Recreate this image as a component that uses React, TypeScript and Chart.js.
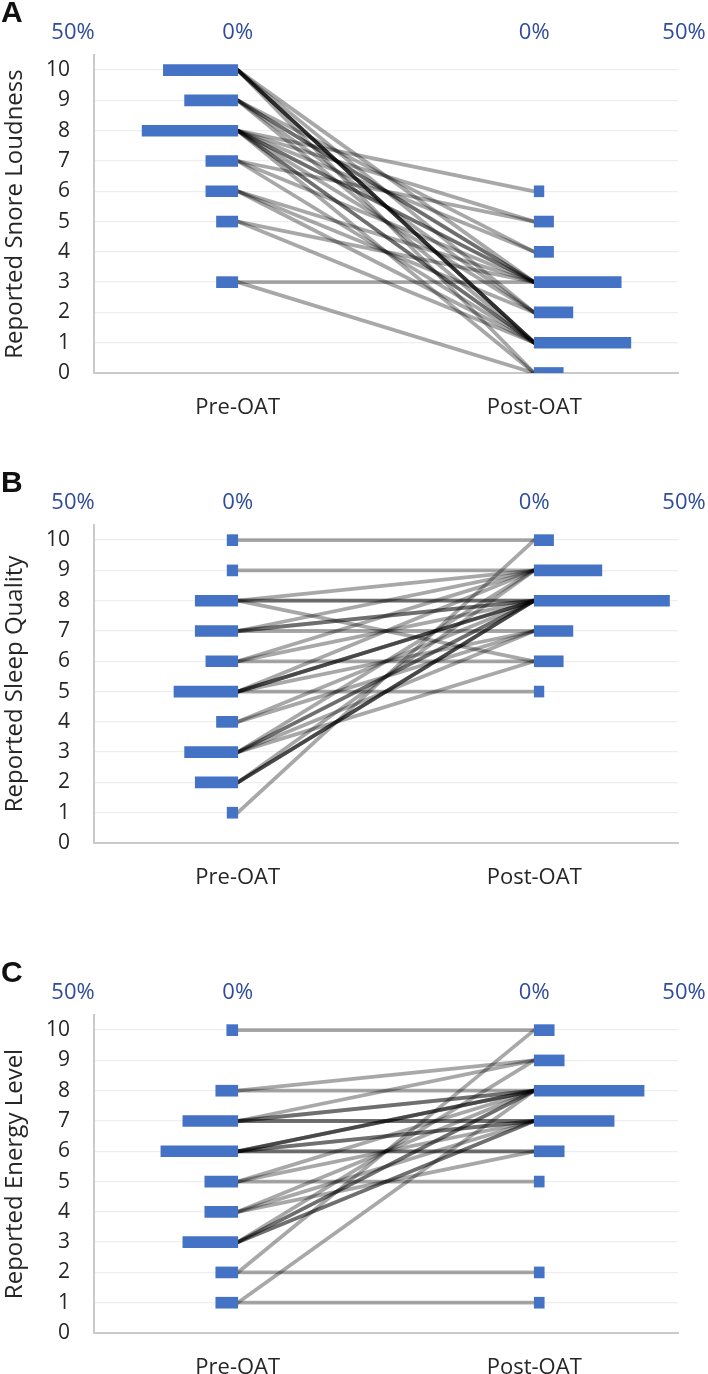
import React, { useEffect, useRef } from 'react';
import { Chart, registerables } from 'chart.js';

Chart.register(...registerables);

// ---- data ----
const CATEGORIES = ['Pre-OAT', 'Post-OAT'];
const Y_TICKS = [0, 1, 2, 3, 4, 5, 6, 7, 8, 9, 10];
const PCT_TICK_LABELS = ['50%', '0%', '0%', '50%'];
const PCT_TICK_VALUES = [50, 0, 0, 50];

// one entry per patient: score before and after OAT
const SNORE_PRE = [10, 10, 10, 10, 10, 10, 10, 9, 9, 9, 9, 9, 8, 8, 8, 8, 8, 8, 8, 8, 8, 7, 7, 7, 6, 6, 6, 5, 5, 3, 3];
const SNORE_POST = [1, 1, 1, 1, 3, 2, 0, 3, 3, 1, 2, 4, 6, 5, 3, 3, 0, 1, 1, 2, 4, 5, 3, 1, 3, 1, 2, 3, 1, 3, 0];

const SLEEP_PRE = [10, 9, 8, 8, 8, 8, 7, 7, 7, 7, 6, 6, 6, 5, 5, 5, 5, 5, 5, 4, 4, 3, 3, 3, 3, 3, 2, 2, 2, 2, 1];
const SLEEP_POST = [10, 9, 8, 8, 6, 9, 7, 8, 8, 9, 6, 8, 9, 5, 8, 8, 8, 7, 9, 8, 7, 8, 8, 9, 7, 6, 8, 8, 8, 9, 10];

const ENERGY_PRE = [10, 8, 8, 7, 7, 7, 7, 7, 6, 6, 6, 6, 6, 6, 6, 5, 5, 5, 4, 4, 4, 3, 3, 3, 3, 3, 2, 2, 1, 1];
const ENERGY_POST = [10, 8, 9, 7, 7, 8, 8, 9, 6, 6, 7, 7, 8, 8, 8, 5, 7, 8, 8, 7, 6, 8, 8, 7, 7, 9, 2, 10, 1, 8];

// ---- layout / style constants ----
const PRE_X = 48;
const POST_X = 147;
const X_MAX = 195;
const PRE_PCT_SCALE = 1.1;
const POST_PCT_SCALE = 1.0;
const BAR_COLOR = '#4472C4';
const LINE_COLOR = 'rgba(0,0,0,0.34)';
const PCT_COLOR = '#2F4C9B';
const TEXT_COLOR = '#262626';
const AXIS_COLOR = '#cacaca';
const GRID_COLOR = '#eeeeee';
const FONT = '"Open Sans", sans-serif';

function tally(arr: number[]): [number, number][] {
  const m = new Map<number, number>();
  arr.forEach((v) => m.set(v, (m.get(v) || 0) + 1));
  return Array.from(m.entries());
}

type PanelProps = { letter: string; title: string; pre: number[]; post: number[]; top: number };

function Panel({ letter, title, pre, post, top }: PanelProps) {
  const ref = useRef<HTMLCanvasElement | null>(null);

  useEffect(() => {
    if (!ref.current) return;
    const n = pre.length;
    const preBars = tally(pre).map(([lvl, c]) => ({ y: lvl, x: [PRE_X - (c / n) * 100 * PRE_PCT_SCALE, PRE_X] }));
    const postBars = tally(post).map(([lvl, c]) => ({ y: lvl, x: [POST_X, POST_X + (c / n) * 100 * POST_PCT_SCALE] }));

    const lineSets: any[] = pre.map((p, i) => ({
      type: 'line',
      data: [
        { x: PRE_X, y: p },
        { x: POST_X, y: post[i] },
      ],
      borderColor: LINE_COLOR,
      borderWidth: 3.8,
      borderCapStyle: 'round',
      pointRadius: 0,
      pointHoverRadius: 0,
      fill: false,
      tension: 0,
      order: 2,
    }));

    const barCommon = {
      type: 'bar',
      indexAxis: 'y',
      backgroundColor: BAR_COLOR,
      barThickness: 11,
      grouped: false,
      borderWidth: 0,
      borderSkipped: false,
      order: 1,
    };

    const pctPositions = PCT_TICK_VALUES.map((v, i) =>
      i < 2 ? PRE_X - v * PRE_PCT_SCALE : POST_X + v * POST_PCT_SCALE
    );

    const overlay = {
      id: 'overlay',
      afterDraw(chart: any) {
        const { ctx, chartArea, scales } = chart;
        ctx.save();
        ctx.fillStyle = PCT_COLOR;
        ctx.font = `22px ${FONT}`;
        ctx.textAlign = 'center';
        ctx.textBaseline = 'middle';
        PCT_TICK_LABELS.forEach((lab, i) => {
          ctx.fillText(lab, scales.x.getPixelForValue(pctPositions[i]), chartArea.top - 22);
        });
        ctx.fillStyle = '#111';
        ctx.font = 'bold 30px "Liberation Sans", Arial, sans-serif';
        ctx.textAlign = 'left';
        ctx.fillText(letter, 1, chartArea.top - 41);
        ctx.restore();
      },
    };

    const chart = new Chart(ref.current, {
      type: 'line',
      data: {
        datasets: [
          ...lineSets,
          { ...barCommon, data: preBars },
          { ...barCommon, data: postBars },
        ] as any,
      },
      options: {
        animation: false,
        responsive: true,
        maintainAspectRatio: false,
        events: [],
        layout: { padding: { top: 55, right: 30, bottom: 40, left: 0 } },
        plugins: { legend: { display: false }, tooltip: { enabled: false } },
        scales: {
          x: {
            type: 'linear',
            min: 0,
            max: X_MAX,
            offset: false,
            grid: { display: false, drawTicks: false },
            border: { display: true, color: AXIS_COLOR, width: 2 },
            afterBuildTicks: (scale: any) => {
              scale.ticks = [{ value: PRE_X }, { value: POST_X }];
            },
            afterFit: (scale: any) => {
              scale.height = 47;
            },
            ticks: {
              autoSkip: false,
              maxRotation: 0,
              padding: 22,
              color: TEXT_COLOR,
              font: { family: FONT, size: 22 },
              callback: (_v: any, i: number) => CATEGORIES[i],
            },
          },
          y: {
            type: 'linear',
            min: 0,
            max: 10.5,
            offset: false,
            grid: { color: GRID_COLOR, lineWidth: 1.3, drawTicks: false, offset: false },
            border: { display: true, color: AXIS_COLOR, width: 2 },
            afterBuildTicks: (scale: any) => {
              scale.ticks = Y_TICKS.map((v) => ({ value: v }));
            },
            afterFit: (scale: any) => {
              scale.width = 94;
            },
            ticks: {
              padding: 24,
              color: TEXT_COLOR,
              font: { family: FONT, size: 21 },
              callback: (v: any) => String(v),
            },
            title: {
              display: true,
              text: title,
              color: TEXT_COLOR,
              font: { family: FONT, size: 24 },
              padding: { top: 1, bottom: 0 },
            },
          },
        },
      } as any,
      plugins: [overlay as any],
    });
    return () => chart.destroy();
  }, [letter, title, pre, post]);

  return (
    <div style={{ position: 'absolute', left: 0, top, width: 708, height: 460 }}>
      <canvas ref={ref} />
    </div>
  );
}

export default function App() {
  return (
    <div
      style={{
        position: 'absolute',
        left: 0,
        top: 0,
        width: 708,
        height: 1374,
        overflow: 'hidden',
        background: '#ffffff',
      }}
    >
      <Panel letter="A" title="Reported Snore Loudness" pre={SNORE_PRE} post={SNORE_POST} top={0} />
      <Panel letter="B" title="Reported Sleep Quality" pre={SLEEP_PRE} post={SLEEP_POST} top={470} />
      <Panel letter="C" title="Reported Energy Level" pre={ENERGY_PRE} post={ENERGY_POST} top={960} />
    </div>
  );
}
